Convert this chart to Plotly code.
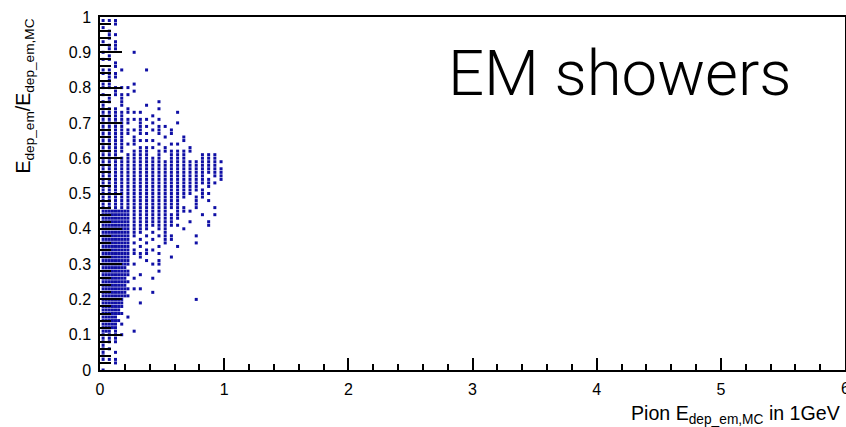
import plotly.graph_objects as go

# x positions of the point columns (GeV); column index k -> x_columns[k-1]
x_columns = [0.025, 0.05, 0.075, 0.1, 0.125, 0.15, 0.175, 0.2, 0.225, 0.25,
             0.275, 0.3, 0.325, 0.35, 0.375, 0.4, 0.425, 0.45, 0.475, 0.5,
             0.525, 0.55, 0.575, 0.6, 0.625, 0.65, 0.675, 0.7, 0.725, 0.75,
             0.775, 0.8, 0.825, 0.85, 0.875, 0.9, 0.925, 0.95, 0.975]

# y levels (ratio) and the columns occupied at each level
y_levels = [0.99, 0.98, 0.97, 0.96, 0.95, 0.94, 0.93, 0.92, 0.91, 0.90,
            0.89, 0.88, 0.87, 0.86, 0.85, 0.84, 0.83, 0.82, 0.81, 0.80,
            0.79, 0.78, 0.77, 0.76, 0.75, 0.74, 0.73, 0.72, 0.71, 0.70,
            0.69, 0.68, 0.67, 0.66, 0.65, 0.64, 0.63, 0.62, 0.61, 0.60,
            0.59, 0.58, 0.57, 0.56, 0.55, 0.54, 0.53, 0.52, 0.51, 0.50,
            0.49, 0.48, 0.47, 0.46, 0.45, 0.44, 0.43, 0.42, 0.41, 0.40,
            0.39, 0.38, 0.37, 0.36, 0.35, 0.34, 0.33, 0.32, 0.31, 0.30,
            0.29, 0.28, 0.27, 0.26, 0.25, 0.24, 0.23, 0.22, 0.21, 0.20,
            0.19, 0.18, 0.17, 0.16, 0.15, 0.14, 0.13, 0.12, 0.11, 0.10,
            0.09, 0.08, 0.07, 0.06, 0.05, 0.04, 0.03, 0.02, 0.00]

occupied = [
    [1, 3, 5], [5], [1], [3], [3, 5], [3], [1, 5], [3, 5], [3, 5], [1, 11],
    [3], [1, 3], [5], [5], [1, 3, 7, 15], [1, 3, 5], [3, 5], [3], [1, 3, 11], [1, 3, 5, 7, 9],
    [5, 11], [1, 5, 7, 9], [3, 7], [1, 3, 7, 19], [1, 7, 15], [1, 3, 5, 9, 19],
    [1, 3, 5, 7, 9, 11, 13, 25], [1, 3, 5, 7, 17], [1, 3, 5, 7, 9, 11, 13, 15, 19],
    [1, 3, 5, 7, 9, 13, 17, 25],
    [1, 3, 5, 7, 13, 15, 19, 21], [1, 3, 5, 7, 9, 11, 13, 17, 19, 23],
    [1, 3, 5, 7, 9, 13, 15, 19, 23], [1, 3, 5, 7, 11, 21, 27],
    [1, 3, 5, 7, 11, 13, 15, 17, 27], [1, 3, 5, 7, 9, 11, 19, 23, 25],
    [1, 3, 5, 7, 13, 15, 17, 21, 29], [1, 3, 5, 7, 11, 13, 15, 19, 21, 23, 25, 27, 29],
    [1, 3, 5, 9, 11, 13, 15, 19, 23, 25, 27, 33, 35, 37],
    [1, 3, 5, 7, 9, 11, 13, 15, 17, 19, 23, 25, 27, 33, 35, 37],
    [1, 3, 5, 7, 9, 11, 13, 15, 17, 19, 21, 23, 25, 27, 29, 31, 33, 35, 37, 39],
    [1, 3, 5, 7, 9, 11, 13, 15, 17, 19, 21, 23, 25, 27, 29, 31, 33, 35, 37],
    [1, 3, 5, 7, 9, 11, 13, 15, 17, 19, 21, 23, 25, 27, 29, 31, 33, 35, 37, 39],
    [1, 3, 5, 7, 9, 11, 13, 15, 17, 19, 21, 23, 25, 27, 29, 31, 33, 35, 37, 39],
    [1, 3, 5, 7, 9, 11, 13, 15, 17, 19, 21, 23, 25, 27, 29, 31, 33, 37, 39],
    [1, 3, 5, 7, 9, 11, 13, 15, 17, 19, 21, 23, 25, 27, 29, 31, 33, 35, 39],
    [1, 3, 5, 7, 9, 11, 13, 15, 17, 19, 21, 23, 25, 27, 29, 31, 33, 35, 37],
    [1, 3, 5, 7, 9, 11, 13, 15, 17, 19, 21, 23, 25, 27, 29, 31, 35],
    [1, 3, 5, 7, 9, 11, 13, 15, 17, 19, 21, 23, 25, 27, 29, 31, 33],
    [1, 3, 5, 7, 9, 11, 13, 15, 17, 19, 21, 23, 25, 27, 29, 33, 35],
    [1, 3, 5, 7, 9, 11, 13, 15, 17, 19, 21, 23, 25, 27, 31, 33],
    [1, 3, 5, 7, 9, 11, 13, 15, 17, 19, 21, 23, 25, 31, 35],
    [1, 3, 5, 7, 9, 11, 13, 15, 17, 19, 21, 23, 25, 31],
    [1, 3, 5, 7, 9, 11, 13, 15, 17, 19, 21, 23, 25, 27, 31, 37],
    [1, 2, 3, 4, 5, 6, 7, 8, 9, 11, 13, 15, 17, 19, 21, 25, 27, 29],
    [1, 2, 3, 4, 5, 6, 7, 8, 9, 11, 13, 15, 17, 19, 21, 23, 25, 33, 37],
    [1, 2, 3, 4, 5, 6, 7, 8, 9, 11, 13, 15, 17, 19, 21, 23, 25],
    [1, 2, 3, 4, 5, 6, 7, 8, 9, 11, 13, 15, 17, 19, 21, 23, 29, 35],
    [1, 2, 3, 4, 5, 6, 7, 8, 9, 11, 13, 15, 17, 19, 21, 23, 25, 35],
    [1, 2, 3, 4, 5, 6, 7, 8, 9, 11, 13, 15, 19, 21, 27],
    [1, 2, 3, 4, 5, 6, 7, 8, 9, 11, 13, 17, 21],
    [1, 2, 3, 4, 5, 6, 7, 8, 9, 11, 15, 19, 21, 23, 31],
    [1, 2, 3, 4, 5, 6, 7, 8, 9, 13, 17, 21, 23],
    [1, 2, 3, 4, 5, 6, 7, 8, 9, 11, 15, 21, 31],
    [1, 2, 3, 4, 5, 6, 7, 8, 9, 13, 19, 25],
    [1, 2, 3, 4, 5, 6, 7, 8, 9, 11, 15, 17],
    [1, 2, 3, 4, 5, 6, 7, 8, 9, 11, 13, 15, 19],
    [1, 2, 3, 4, 5, 6, 7, 8, 9, 13, 23],
    [1, 2, 3, 4, 5, 6, 7, 8, 9, 15, 19],
    [1, 2, 3, 4, 5, 6, 7, 8, 9, 11, 17, 19],
    [1, 2, 3, 4, 5, 6, 7, 8],
    [1, 2, 3, 4, 5, 6, 7, 8, 9, 19],
    [1, 2, 3, 4, 5, 6, 7, 8, 9, 13],
    [1, 2, 3, 4, 5, 6, 7, 8, 11, 17],
    [1, 2, 3, 4, 5, 6, 7, 8, 9],
    [1, 2, 3, 4, 5, 6, 7, 8],
    [1, 2, 3, 4, 5, 6, 7, 8, 9, 11, 13],
    [1, 2, 3, 4, 5, 6, 7, 8, 17],
    [1, 2, 3, 4, 5, 6, 7, 8, 9],
    [1, 2, 3, 4, 5, 6, 7, 31],
    [1, 2, 3, 4, 5, 6, 7, 13],
    [1, 2, 3, 4, 5, 6, 7],
    [1, 2, 3, 4, 5, 6],
    [1, 2, 3, 4, 5, 6, 7],
    [1, 2, 3, 4, 5, 9],
    [1, 2, 3, 4, 5, 6],
    [1, 2, 3, 4, 5, 7],
    [1, 2, 3, 4, 5],
    [1, 2, 3, 5, 11],
    [1, 3, 5, 7],
    [1, 3, 5], [1, 3, 5], [1], [1, 3], [1, 5], [1], [1, 3, 5], [5], [1],
]

xs, ys = [], []
for yv, cols in zip(y_levels, occupied):
    for k in cols:
        xs.append(x_columns[k - 1])
        ys.append(yv)

FONT = "Liberation Sans, Arial, Helvetica, sans-serif"

fig = go.Figure(go.Scatter(
    x=xs, y=ys, mode="markers",
    marker=dict(symbol="square", size=3, color="rgb(15,15,165)", line=dict(width=0)),
    hoverinfo="skip"))

axis_common = dict(showgrid=False, zeroline=False, showline=True, linecolor="black",
                   linewidth=1.5, mirror=True, ticks="inside", tickwidth=1.5,
                   tickcolor="black", automargin=False,
                   tickfont=dict(family=FONT, size=16, color="black"))

fig.update_xaxes(range=[0, 6], tick0=0, dtick=1, ticklen=12, ticklabelstandoff=4,
                 minor=dict(ticks="inside", dtick=0.2, ticklen=6, tickwidth=1.5,
                            tickcolor="black", showgrid=False),
                 **axis_common)
fig.update_yaxes(range=[0, 1], tick0=0, dtick=0.1, ticklen=22, ticklabelstandoff=4,
                 minor=dict(ticks="inside", dtick=0.02, ticklen=11, tickwidth=1.5,
                            tickcolor="black", showgrid=False),
                 **axis_common)

# last x tick label sits on the right edge and is half cut off, as in the reference
fig.add_annotation(text="6", xref="paper", yref="paper", x=1, y=0,
                   xanchor="center", yanchor="top", yshift=-8, showarrow=False,
                   font=dict(family=FONT, size=16, color="black"))

fig.add_annotation(text="EM showers", xref="paper", yref="paper",
                   x=(446 - 99.5) / 746, y=(370 - 73) / 353, xanchor="left", yanchor="middle",
                   showarrow=False,
                   font=dict(family="Roboto, Inter, Liberation Sans", size=63.5, color="black", weight=300))

fig.add_annotation(text="Pion E<sub>dep_em,MC</sub> in 1GeV", xref="paper", yref="paper",
                   x=1, y=0, xanchor="right", yanchor="top", xshift=-3, yshift=-30,
                   showarrow=False, font=dict(family=FONT, size=19.6, color="black"))

fig.add_annotation(text="E<sub>dep_em</sub>/E<sub>dep_em,MC</sub>", xref="paper", yref="paper",
                   x=0, y=1, xanchor="center", yanchor="top", xshift=-76, yshift=0,
                   textangle=-90, showarrow=False,
                   font=dict(family=FONT, size=19.5, color="black"))

fig.update_layout(width=846, height=427, autosize=False,
                  margin=dict(l=99.5, r=0.5, t=17, b=57),
                  paper_bgcolor="white", plot_bgcolor="white", showlegend=False)

fig.write_html("out.html", config={"displayModeBar": False},
               post_script="document.body.style.margin='0';")
